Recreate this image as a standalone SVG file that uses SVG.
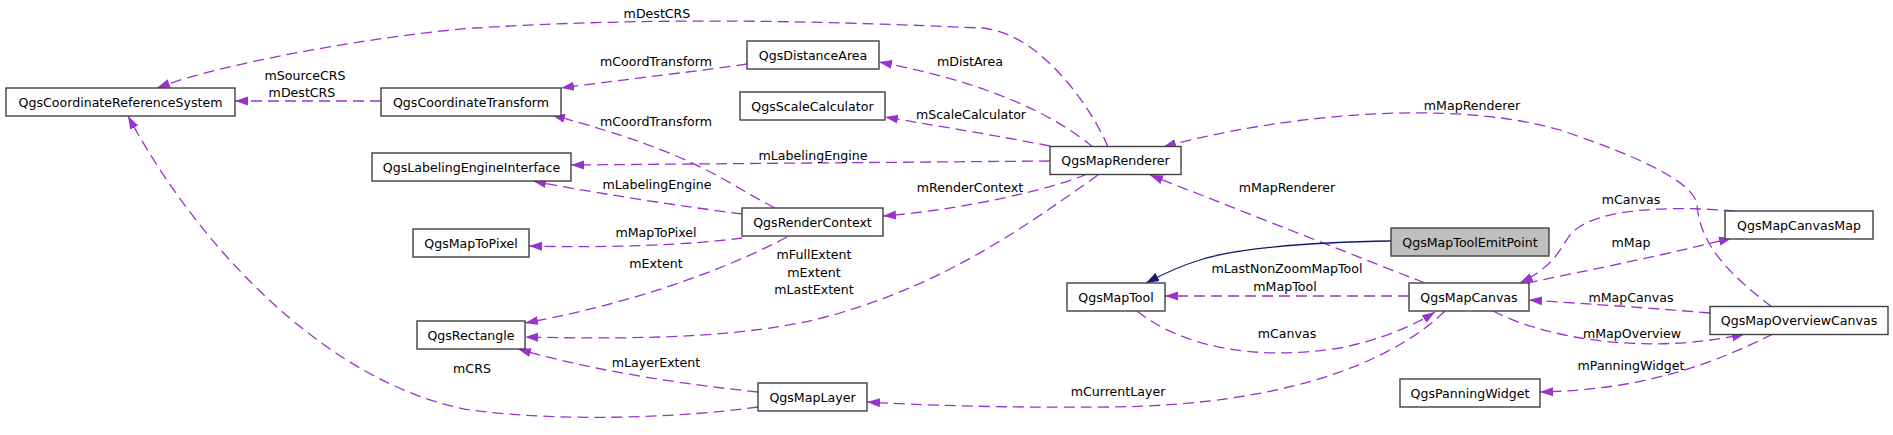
<svg xmlns="http://www.w3.org/2000/svg" width="1893" height="435" viewBox="0 0 1893 435">
<style>
.n rect{fill:#ffffff;stroke:#404040;stroke-width:1.4}
.n text{font-family:"DejaVu Sans",sans-serif;font-size:12.6px;fill:#000;text-anchor:middle}
.e path{fill:none;stroke:#9a32cd;stroke-width:1.3;stroke-dasharray:11,6;marker-end:url(#ap)}
.e path.inh{stroke:#191970;stroke-dasharray:none;marker-end:url(#an)}
.l text{font-family:"DejaVu Sans",sans-serif;font-size:12.6px;fill:#000;text-anchor:middle}
</style>
<defs>
<marker id="ap" markerUnits="userSpaceOnUse" markerWidth="14" markerHeight="10" refX="13" refY="5" orient="auto"><path d="M0,0.5 L13,5 L0,9.5 z" fill="#9a32cd" stroke="none"/></marker>
<marker id="an" markerUnits="userSpaceOnUse" markerWidth="14" markerHeight="10" refX="13" refY="5" orient="auto"><path d="M0,0.5 L13,5 L0,9.5 z" fill="#191970" stroke="none"/></marker>
</defs>
<rect width="1893" height="435" fill="#ffffff"/>
<g id="edges" class="e">
<path d="M381,101 L235,101"/>
<path d="M1108,147 C1095,115 1045,35 983,28 C900,25 700,14 475,28 C400,33 230,60 157,88"/>
<path d="M747,64 C700,71 620,80 561,88"/>
<path d="M1093,147 C1060,120 1000,85 879,62"/>
<path d="M1050,146 C1010,138 950,128 885,117"/>
<path d="M1050,161 L571,165"/>
<path d="M1087,174 C1050,190 960,210 883,216"/>
<path d="M1098,175 C1020,230 950,280 840,313 C760,337 650,340 525,337"/>
<path d="M775,208 C720,180 700,155 552,115"/>
<path d="M742,214 C680,206 600,194 533,181"/>
<path d="M742,238 C690,245 610,248 529,246"/>
<path d="M787,237 C740,262 650,300 525,323"/>
<path d="M758,392 C680,384 590,370 518,349"/>
<path d="M758,407 C680,418 560,422 470,410 C330,385 200,250 128,116"/>
<path d="M1445,311 C1400,355 1300,405 1110,407 C1000,408 920,405 867,402"/>
<path d="M1425,283 L1150,175"/>
<path class="inh" d="M1391,241 C1300,242 1230,250 1200,260 C1180,266 1165,273 1146,283"/>
<path d="M1409,296 L1165,296"/>
<path d="M1137,311 C1180,345 1250,362 1340,348 C1380,340 1415,325 1435,312"/>
<path d="M1772,307 C1730,275 1700,245 1697,205 C1695,185 1650,160 1560,130 C1450,98 1280,115 1163,147"/>
<path d="M1735,211 C1660,205 1600,210 1575,230 C1560,243 1562,262 1520,283"/>
<path d="M1527,283 C1590,270 1660,256 1732,238"/>
<path d="M1710,313 C1650,308 1590,304 1529,300"/>
<path d="M1493,311 C1550,340 1650,355 1745,334"/>
<path d="M1773,334 C1720,360 1650,390 1540,392"/>
</g>
<g id="labels" class="l">
<text x="305" y="79.5">mSourceCRS</text>
<text x="302" y="96.5">mDestCRS</text>
<text x="657" y="17.5">mDestCRS</text>
<text x="656" y="65.5">mCoordTransform</text>
<text x="970" y="65.5">mDistArea</text>
<text x="971" y="118.5">mScaleCalculator</text>
<text x="656" y="125.5">mCoordTransform</text>
<text x="813" y="159.5">mLabelingEngine</text>
<text x="657" y="188.5">mLabelingEngine</text>
<text x="970" y="191.5">mRenderContext</text>
<text x="656" y="236.5">mMapToPixel</text>
<text x="814" y="258.5">mFullExtent</text>
<text x="814" y="277">mExtent</text>
<text x="814" y="294">mLastExtent</text>
<text x="656" y="267.5">mExtent</text>
<text x="656" y="366.5">mLayerExtent</text>
<text x="472" y="372.5">mCRS</text>
<text x="1118" y="395.5">mCurrentLayer</text>
<text x="1287" y="191.5">mMapRenderer</text>
<text x="1287" y="272.5">mLastNonZoomMapTool</text>
<text x="1285" y="290.5">mMapTool</text>
<text x="1287" y="337.5">mCanvas</text>
<text x="1472" y="109.5">mMapRenderer</text>
<text x="1631" y="203.5">mCanvas</text>
<text x="1631" y="246.5">mMap</text>
<text x="1631" y="301.5">mMapCanvas</text>
<text x="1632" y="337.5">mMapOverview</text>
<text x="1631" y="369.5">mPanningWidget</text>
</g>
<g id="n1" class="n"><rect x="6" y="88" width="229" height="28"/><text x="120.5" y="106.5">QgsCoordinateReferenceSystem</text></g>
<g id="n2" class="n"><rect x="381" y="88" width="180" height="28"/><text x="471" y="106.5">QgsCoordinateTransform</text></g>
<g id="n3" class="n"><rect x="372" y="153" width="199" height="28"/><text x="471.5" y="171.5">QgsLabelingEngineInterface</text></g>
<g id="n4" class="n"><rect x="413" y="229" width="116" height="28"/><text x="471" y="247.5">QgsMapToPixel</text></g>
<g id="n5" class="n"><rect x="417" y="321" width="108" height="28"/><text x="471" y="339.5">QgsRectangle</text></g>
<g id="n6" class="n"><rect x="747" y="41" width="132" height="28"/><text x="813" y="59.5">QgsDistanceArea</text></g>
<g id="n7" class="n"><rect x="740" y="92" width="145" height="28"/><text x="812.5" y="110.5">QgsScaleCalculator</text></g>
<g id="n8" class="n"><rect x="742" y="208" width="141" height="28"/><text x="812.5" y="226.5">QgsRenderContext</text></g>
<g id="n9" class="n"><rect x="758" y="383" width="109" height="28"/><text x="812.5" y="401.5">QgsMapLayer</text></g>
<g id="n10" class="n"><rect x="1050" y="146.5" width="131" height="28"/><text x="1115.5" y="165">QgsMapRenderer</text></g>
<g id="n11" class="n"><rect x="1067" y="283" width="98" height="28"/><text x="1116" y="301.5">QgsMapTool</text></g>
<g id="n12" class="n"><rect x="1391" y="228" width="158" height="28" style="fill:#bfbfbf"/><text x="1470" y="246.5">QgsMapToolEmitPoint</text></g>
<g id="n13" class="n"><rect x="1409" y="283" width="120" height="28"/><text x="1469" y="301.5">QgsMapCanvas</text></g>
<g id="n14" class="n"><rect x="1400" y="379" width="140" height="28"/><text x="1470" y="397.5">QgsPanningWidget</text></g>
<g id="n15" class="n"><rect x="1725" y="211" width="148" height="28"/><text x="1799" y="229.5">QgsMapCanvasMap</text></g>
<g id="n16" class="n"><rect x="1710" y="306.5" width="178" height="28"/><text x="1799" y="325">QgsMapOverviewCanvas</text></g>
</svg>
